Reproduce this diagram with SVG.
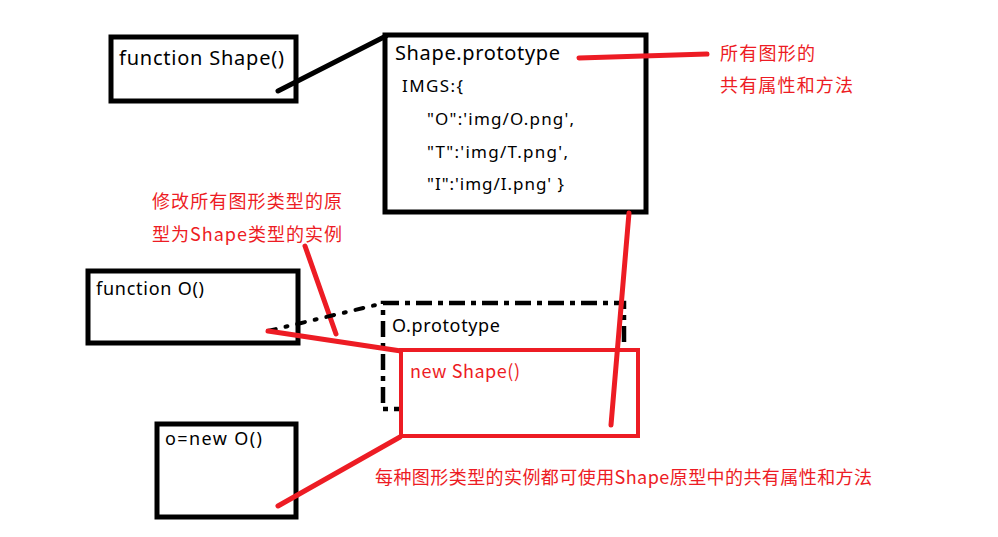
<svg xmlns="http://www.w3.org/2000/svg" width="998" height="537" viewBox="0 0 998 537">
<style>
  .box{fill:#fff;stroke:#000;stroke-width:5}
  .rbox{fill:#fff;stroke:#ed1c24;stroke-width:4}
  .dbox{fill:none;stroke:#000;stroke-width:4.5;stroke-dasharray:16 6 5 6}
  .t{font-family:"Noto Sans","Open Sans","Noto Sans CJK SC",sans-serif;fill:#000}
  .r{font-family:"Noto Sans CJK SC","Noto Sans",sans-serif;fill:#ed1c24;font-size:18px}
  .bl{stroke:#000;stroke-width:5;stroke-linecap:round;fill:none}
  .rl{stroke:#ed1c24;stroke-width:5;stroke-linecap:round;fill:none}
  .dl{stroke:#000;stroke-width:4;stroke-linecap:round;fill:none;stroke-dasharray:8 10 2 10}
</style>
<rect width="998" height="537" fill="#fff"/>
<g id="shape-fn">
  <rect class="box" x="111" y="37" width="185" height="64"/>
  <text class="t" x="119" y="65" font-size="20" textLength="165">function Shape()</text>
</g>
<g id="o-proto">
  <rect class="dbox" x="383" y="303" width="241" height="106"/>
  <text class="t" x="392" y="332" font-size="18" textLength="108">O.prototype</text>
</g>
<g id="new-shape">
  <rect class="rbox" x="401" y="350" width="237" height="86"/>
  <text class="r" x="410" y="378" textLength="110">new Shape()</text>
</g>
<g id="shape-proto">
  <rect class="box" x="385" y="35" width="261" height="177"/>
  <text class="t" x="395" y="60" font-size="20" textLength="165">Shape.prototype</text>
  <text class="t" x="402" y="92" font-size="17" textLength="61">IMGS:{</text>
  <text class="t" x="427" y="125" font-size="17" textLength="147">"O":'img/O.png',</text>
  <text class="t" x="427" y="158" font-size="17" textLength="141">"T":'img/T.png',</text>
  <text class="t" x="427" y="190" font-size="17" textLength="137">"I":'img/I.png' }</text>
</g>
<g id="o-fn">
  <rect class="box" x="88" y="271" width="210" height="72"/>
  <text class="t" x="96" y="295" font-size="18" textLength="108">function O()</text>
</g>
<g id="o-inst">
  <rect class="box" x="157" y="424" width="139" height="93"/>
  <text class="t" x="165" y="445" font-size="18" textLength="97">o=new O()</text>
</g>
<g id="note-shared">
  <text class="r" x="720" y="60" textLength="95">所有图形的</text>
  <text class="r" x="720" y="92" textLength="133">共有属性和方法</text>
</g>
<g id="note-modify">
  <text class="r" x="152" y="208" textLength="190">修改所有图形类型的原</text>
  <text class="r" x="152" y="241" textLength="190">型为Shape类型的实例</text>
</g>
<g id="note-instances">
  <text class="r" x="375" y="484" textLength="497">每种图形类型的实例都可使用Shape原型中的共有属性和方法</text>
</g>
<g id="connectors">
  <line class="bl" x1="278" y1="91" x2="386" y2="36"/>
  <line class="rl" x1="579" y1="58" x2="707" y2="54"/>
  <line class="rl" x1="305" y1="246" x2="336" y2="334"/>
  <line class="dl" x1="268" y1="331" x2="384" y2="303"/>
  <line class="rl" x1="268" y1="331" x2="401" y2="351"/>
  <line class="rl" x1="629" y1="213" x2="611" y2="425"/>
  <line class="rl" x1="400" y1="437" x2="278" y2="506"/>
</g>
</svg>
